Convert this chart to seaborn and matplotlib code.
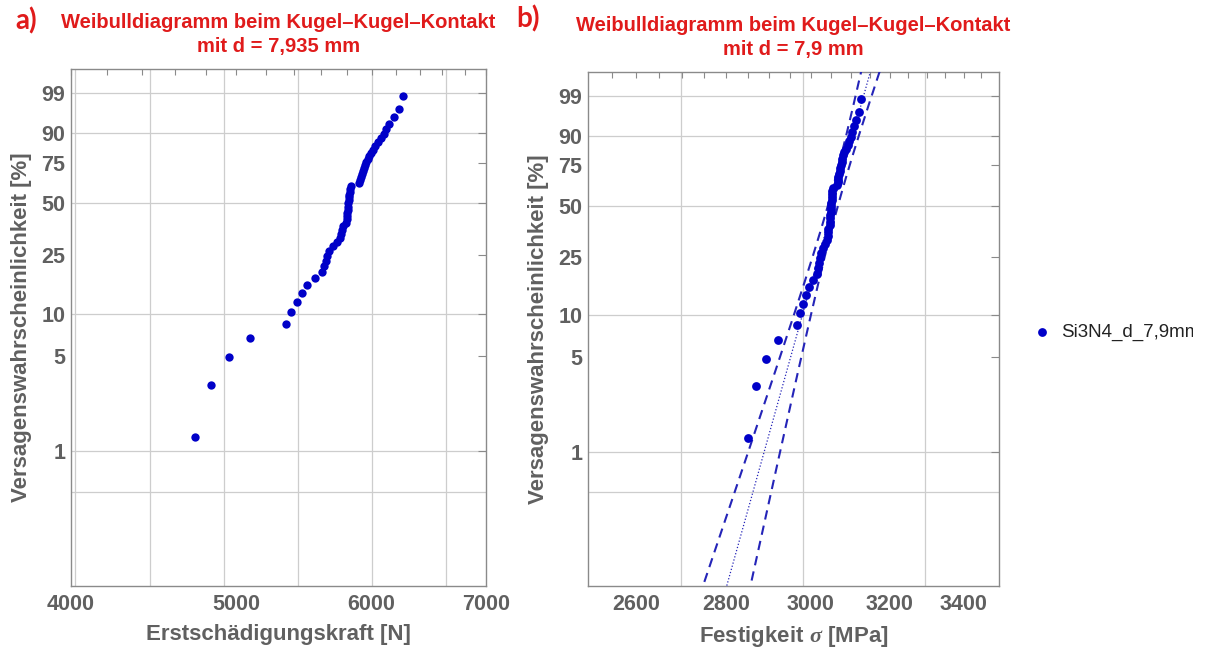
import numpy as np
import matplotlib
matplotlib.use("Agg")
import matplotlib.pyplot as plt
import seaborn as sns
from matplotlib.ticker import FixedLocator, FixedFormatter, NullFormatter, NullLocator
from matplotlib.transforms import Bbox

# ---------------------------------------------------------------------------
# Data: 55 ball-on-ball tests, sorted by load
# ---------------------------------------------------------------------------
force_N = [4731, 4834, 4950, 5095, 5342, 5380, 5424, 5461, 5498, 5558,
           5608, 5626, 5640, 5652, 5664, 5694, 5725, 5749, 5760, 5768,
           5776, 5796, 5800, 5803, 5806, 5809, 5811, 5814, 5816, 5819,
           5822, 5826, 5830, 5835, 5899, 5907, 5915, 5920, 5927, 5935,
           5947, 5958, 5968, 5980, 5993, 6009, 6026, 6050, 6075, 6100,
           6120, 6144, 6184, 6228, 6262]

strength_MPa = [2849, 2869, 2892, 2920, 2966, 2973, 2981, 2988, 2995, 3006,
                3015, 3018, 3020, 3022, 3025, 3030, 3035, 3040, 3042, 3043,
                3044, 3048, 3049, 3049, 3049, 3050, 3050, 3051, 3051, 3052,
                3052, 3053, 3054, 3055, 3066, 3067, 3068, 3069, 3070, 3072,
                3074, 3076, 3077, 3079, 3081, 3084, 3088, 3092, 3096, 3100,
                3104, 3108, 3114, 3122, 3127]

# failure probability of each rank [%]
failure_pct = [1.26, 3.07, 4.87, 6.68, 8.48, 10.29, 12.09, 13.90, 15.70, 17.51,
               19.31, 21.12, 22.92, 24.73, 26.53, 28.34, 30.14, 31.95, 33.75, 35.56,
               37.36, 39.17, 40.97, 42.78, 44.58, 46.39, 48.19, 50.00, 51.81, 53.61,
               55.42, 57.22, 59.03, 60.83, 62.64, 64.44, 66.25, 68.05, 69.86, 71.66,
               73.47, 75.27, 77.08, 78.88, 80.69, 82.49, 84.30, 86.10, 87.91, 89.71,
               91.52, 93.32, 95.13, 96.93, 98.74]

prob_ticks = [1, 5, 10, 25, 50, 75, 90, 99]
prob_grid = [0.5, 1, 10, 50, 90, 99]

force_ticks = [4000, 5000, 6000, 7000]
force_minor = list(range(4000, 7001, 200))
force_grid_ln = [8.3, 8.4, 8.5, 8.6, 8.7, 8.8]

strength_ticks = [2600, 2800, 3000, 3200, 3400]
strength_minor = list(range(2550, 3451, 50))
strength_grid_ln = [7.9, 8.0, 8.1]

# Weibull fit of the strength data and its confidence band
weibull_m = 75.2
sigma0 = 3070.0
band_a, band_b, band_yc = 0.0041, 0.00286, -0.275

series_label = "Si3N4_d_7,9mm"

# ---------------------------------------------------------------------------
RED = "#e01b1b"
TXT = "#606060"
FRAME = "#8a8a8a"
GRID = "#cdcdcd"
BLUE = "#0000c8"
LINE_BLUE = "#2424b8"

sns.set_theme(style="white")
plt.rcParams["font.family"] = ["Liberation Sans", "DejaVu Sans"]
plt.rcParams["font.weight"] = "bold"
plt.rcParams["mathtext.fontset"] = "custom"
plt.rcParams["mathtext.it"] = "Liberation Serif:italic"
plt.rcParams["mathtext.rm"] = "Liberation Sans:bold"


def weibull_fwd(p):
    p = np.clip(np.asarray(p, dtype=float), 1e-6, 100 - 1e-6)
    return np.log(-np.log(1 - p / 100.0))


def weibull_inv(y):
    return 100.0 * (1 - np.exp(-np.exp(np.asarray(y, dtype=float))))


W, H = 1207, 652
fig = plt.figure(figsize=(W / 100, H / 100), dpi=100)
fig.patch.set_facecolor("white")


def axes_px(x0, y0, x1, y1):
    return fig.add_axes([x0 / W, 1 - y1 / H, (x1 - x0) / W, (y1 - y0) / H])


ax_a = axes_px(71, 69, 486, 586)
ax_b = axes_px(588, 72, 999, 586)

# --- points ---------------------------------------------------------------
sns.scatterplot(x=force_N, y=failure_pct, ax=ax_a, color=BLUE, s=36,
                linewidth=0, zorder=5, legend=False)

# fit line and confidence band (in Weibull coordinates)
y_line = np.linspace(weibull_fwd(0.05), weibull_fwd(99.95), 300)
pct_line = weibull_inv(y_line)
half = np.sqrt(band_a ** 2 + (band_b * (y_line - band_yc)) ** 2)
sig_fit = sigma0 * np.exp(y_line / weibull_m)
sig_lo = sigma0 * np.exp(y_line / weibull_m - half)
sig_hi = sigma0 * np.exp(y_line / weibull_m + half)

for sig in (sig_lo, sig_hi):
    sns.lineplot(x=sig, y=pct_line, ax=ax_b, sort=False, estimator=None,
                 color=LINE_BLUE, lw=1.5, linestyle=(0, (4.5, 3.0)), zorder=4)
sns.lineplot(x=sig_fit, y=pct_line, ax=ax_b, sort=False, estimator=None,
             color=LINE_BLUE, lw=0.9, linestyle=(0, (1, 1.6)), zorder=4)

sns.scatterplot(x=strength_MPa, y=failure_pct, ax=ax_b, color=BLUE, s=40,
                linewidth=0, zorder=5, legend=False)
point_handle = ax_b.collections[-1]


def style_axes(ax, xlim, major, minor, grid_ln, xlabel):
    ax.set_xscale("log")
    ax.set_yscale("function", functions=(weibull_fwd, weibull_inv))
    ax.set_xlim(*xlim)
    ax.set_ylim(0.1, 99.9)
    ax.xaxis.set_major_locator(FixedLocator(major))
    ax.xaxis.set_major_formatter(FixedFormatter([str(v) for v in major]))
    ax.xaxis.set_minor_locator(FixedLocator(minor))
    ax.xaxis.set_minor_formatter(NullFormatter())
    ax.yaxis.set_major_locator(FixedLocator(prob_ticks))
    ax.yaxis.set_major_formatter(FixedFormatter([str(v) for v in prob_ticks]))
    ax.yaxis.set_minor_locator(NullLocator())
    for v in np.exp(grid_ln):
        ax.axvline(v, color=GRID, lw=0.9, zorder=0)
    for p in prob_grid:
        ax.axhline(p, color=GRID, lw=0.9, zorder=0)
    ax.tick_params(which="both", direction="in", top=True, right=True,
                   color=FRAME, labelcolor=TXT, labelsize=15.5, width=0.8)
    ax.tick_params(axis="x", which="major", length=4, pad=6)
    ax.tick_params(axis="x", which="minor", length=4)
    ax.tick_params(axis="y", which="major", length=6, pad=4)
    for s in ax.spines.values():
        s.set_color(FRAME)
        s.set_linewidth(1.0)
    ax.set_xlabel(xlabel, color=TXT, fontsize=16, fontweight="bold", labelpad=6)
    ax.set_ylabel("Versagenswahrscheinlichkeit [%]", color=TXT, fontsize=16,
                  fontweight="bold", labelpad=7)
    ax.set_facecolor("white")


style_axes(ax_a, (4000, 7000), force_ticks, force_minor, force_grid_ln,
           "Erstschädigungskraft [N]")
style_axes(ax_b, (2500, 3500), strength_ticks, strength_minor, strength_grid_ln,
           r"Festigkeit $\sigma$ [MPa]")

ax_a.set_title("Weibulldiagramm beim Kugel\u2013Kugel\u2013Kontakt\nmit d = 7,935 mm",
               color=RED, fontsize=14.5, fontweight="bold", linespacing=1.35, pad=12)
ax_b.set_title("Weibulldiagramm beim Kugel\u2013Kugel\u2013Kontakt\nmit d = 7,9 mm",
               color=RED, fontsize=14.5, fontweight="bold", linespacing=1.35, pad=12)

fig.text(15 / W, 1 - 21 / H, "a)", color=RED, fontsize=20, fontweight="bold",
         family=["Lato", "DejaVu Sans"], ha="left", va="center")
fig.text(516 / W, 1 - 19 / H, "b)", color=RED, fontsize=20, fontweight="bold",
         family=["Lato", "DejaVu Sans"], ha="left", va="center")

leg = fig.legend(handles=[point_handle], labels=[series_label],
                 loc="center left", bbox_to_anchor=(1029 / W, 1 - 332 / H),
                 frameon=False, borderpad=0, borderaxespad=0,
                 handlelength=1.4, handletextpad=0.3,
                 prop={"family": "Liberation Sans", "weight": "normal", "size": 13.5})
for t in leg.get_texts():
    t.set_color("#222222")
    t.set_clip_box(Bbox.from_extents(0, 0, 1193, H))
    t.set_clip_on(True)

fig.savefig("out.png", dpi=100, facecolor="white")
